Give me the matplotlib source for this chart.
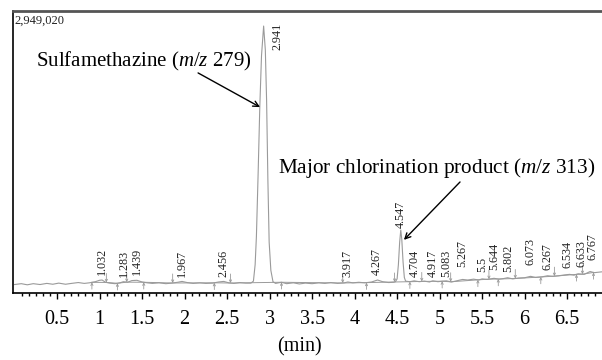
import numpy as np
import matplotlib
matplotlib.use("Agg")
import matplotlib.pyplot as plt
from matplotlib.ticker import FixedLocator, FuncFormatter

plt.rcParams['font.family'] = ['Liberation Serif', 'DejaVu Serif']
plt.rcParams['mathtext.fontset'] = 'custom'
plt.rcParams['mathtext.rm'] = 'Liberation Serif'
plt.rcParams['mathtext.it'] = 'Liberation Serif:italic'

# ---- data (relative intensity, % of full scale 2,949,020) ----
trace_time = [0.00, 0.08, 0.15, 0.22, 0.30, 0.38, 0.45, 0.52, 0.60, 0.67, 0.75, 0.82, 0.88,
              0.95, 1.00, 1.03, 1.07, 1.12, 1.18, 1.24, 1.28, 1.33, 1.38, 1.44, 1.50, 1.56,
              1.62, 1.70, 1.78, 1.85, 1.92, 1.97, 2.03, 2.10, 2.18, 2.25, 2.33, 2.40, 2.46,
              2.52, 2.58, 2.65, 2.72, 2.78,
              2.81, 2.83, 2.845, 2.865, 2.885, 2.905, 2.93, 2.95, 2.965, 2.98, 2.995, 3.015, 3.04,
              3.07, 3.14, 3.20, 3.28, 3.35, 3.42, 3.50, 3.58, 3.65, 3.72, 3.80, 3.88, 3.92,
              3.98, 4.05, 4.12, 4.20, 4.27, 4.33, 4.40, 4.46, 4.48,
              4.50, 4.515, 4.53, 4.543, 4.555, 4.57, 4.585, 4.60,
              4.65, 4.70, 4.76, 4.82, 4.88, 4.92, 4.98, 5.04, 5.08, 5.14, 5.20, 5.27, 5.33,
              5.40, 5.46, 5.50, 5.56, 5.64, 5.70, 5.75, 5.80, 5.86, 5.93, 6.00, 6.07, 6.13,
              6.20, 6.27, 6.33, 6.40, 6.47, 6.53, 6.58, 6.63, 6.70, 6.77, 6.82, 6.91]
trace_value = [3.0, 3.3, 2.9, 3.3, 3.0, 3.4, 3.1, 3.5, 3.1, 3.4, 3.7, 3.4, 3.6,
               4.0, 4.5, 4.6, 3.8, 3.5, 3.3, 3.6, 4.0, 3.8, 4.4, 4.5, 3.9, 3.6,
               3.4, 3.6, 3.3, 3.5, 3.8, 4.1, 3.7, 3.4, 3.6, 3.4, 3.5, 3.9, 4.1,
               3.6, 3.4, 3.7, 3.5, 3.5,
               4.2, 10.0, 20.0, 42.0, 66.0, 84.0, 94.5, 86.0, 68.0, 40.0, 18.0, 8.0, 4.0,
               3.4, 3.8, 3.3, 3.6, 3.2, 3.5, 3.3, 3.6, 3.4, 3.7, 3.4, 3.6, 3.9,
               3.6, 3.8, 3.6, 3.9, 4.6, 4.0, 3.7, 3.8, 4.0,
               5.0, 10.0, 18.0, 22.3, 19.0, 11.0, 5.5, 4.2,
               4.0, 4.3, 4.0, 4.2, 3.9, 4.3, 4.0, 4.2, 4.3, 3.9, 4.3, 4.8, 4.6,
               4.9, 4.6, 5.0, 4.8, 5.2, 4.9, 5.1, 5.4, 5.0, 5.3, 5.4, 5.9, 5.5,
               5.7, 6.1, 5.9, 6.1, 6.4, 6.6, 6.3, 6.8, 6.6, 7.6, 7.2, 7.5]

peak_labels = ["1.032", "1.283", "1.439", "1.967", "2.456", "2.941", "3.917", "4.267",
               "4.547", "4.704", "4.917", "5.083", "5.267", "5.5", "5.644", "5.802",
               "6.073", "6.267", "6.534", "6.633", "6.767"]
peak_times = [1.032, 1.283, 1.439, 1.967, 2.456, 2.941, 3.917, 4.267, 4.547, 4.704,
              4.917, 5.083, 5.267, 5.5, 5.644, 5.802, 6.073, 6.267, 6.534, 6.633, 6.767]
label_heights = [6.4, 5.7, 6.4, 5.7, 5.6, 86.0, 5.7, 6.4, 23.0, 5.7, 5.7, 5.7, 9.2,
                 7.4, 8.1, 7.4, 9.9, 8.1, 8.8, 9.2, 11.7]

marker_times = [0.91, 1.08, 1.21, 1.32, 1.52, 1.86, 2.35, 2.54, 3.14, 3.86, 4.14, 4.47,
                4.65, 4.79, 5.03, 5.13, 5.45, 5.58, 5.69, 5.89, 6.19, 6.35, 6.61, 6.68, 6.81]

full_scale = "2,949,020"

# label nudges (layout only, in minutes) to keep crowded labels apart
label_nudge = {"2.941": 0.15, "6.534": -0.025, "6.633": 0.03, "6.767": 0.035}

# ---- figure ----
fig = plt.figure(figsize=(6.02, 3.60), dpi=100)
ax = fig.add_axes([13 / 602, 67 / 360, 589 / 602, 282.5 / 360])
ax.set_xlim(-0.018, 6.91)
ax.set_ylim(0, 100)

gray = '#9a9a9a'
ax.plot(trace_time, trace_value, color=gray, lw=0.8, zorder=2)

# integration baseline and markers
mk_y = np.interp(marker_times, trace_time, trace_value)
ax.plot(marker_times, mk_y, color=gray, lw=0.7, zorder=2)
for i, (t, y) in enumerate(zip(marker_times, mk_y)):
    if i % 2 == 0:
        ax.annotate('', xy=(t, y), xytext=(t, y - 2.4),
                    arrowprops=dict(arrowstyle='->', color='#999999', lw=0.6,
                                    mutation_scale=4, shrinkA=0, shrinkB=0))
    else:
        ax.annotate('', xy=(t, y), xytext=(t, y + 3.2),
                    arrowprops=dict(arrowstyle='->', color='#999999', lw=0.6,
                                    mutation_scale=4, shrinkA=0, shrinkB=0))

# peak labels
for lab, t, h in zip(peak_labels, peak_times, label_heights):
    x = t + label_nudge.get(lab, 0.0)
    ax.text(x, h, lab, rotation=90, ha='center', va='bottom', fontsize=8.7,
            color='#222222')

ax.text(0.003, 0.985, full_scale, transform=ax.transAxes, ha='left', va='top',
        fontsize=9, color='#222222')

# annotations
ax.text(1.52, 82.1, 'Sulfamethazine ($m/z$ 279)', ha='center', va='center',
        fontsize=15)
ax.annotate('', xy=(2.888, 65.8), xytext=(2.159, 77.9),
            arrowprops=dict(arrowstyle='->', color='black', lw=1.0, shrinkA=0,
                            shrinkB=0))
ax.text(4.96, 44.2, 'Major chlorination product ($m/z$ 313)', ha='center',
        va='center', fontsize=15.3)
ax.annotate('', xy=(4.58, 18.8), xytext=(5.24, 39.3),
            arrowprops=dict(arrowstyle='->', color='black', lw=1.0, shrinkA=0,
                            shrinkB=0))

# axes styling
ax.spines['right'].set_visible(False)
ax.spines['top'].set_color('#555555')
ax.spines['top'].set_linewidth(2.0)
ax.spines['left'].set_color('black')
ax.spines['left'].set_linewidth(1.2)
ax.spines['bottom'].set_color('black')
ax.spines['bottom'].set_linewidth(1.2)
ax.set_yticks([])

major = [0.5, 1, 1.5, 2, 2.5, 3, 3.5, 4, 4.5, 5, 5.5, 6, 6.5]
minor = [k / 12 for k in range(1, 83)]
ax.xaxis.set_major_locator(FixedLocator(major))
ax.xaxis.set_minor_locator(FixedLocator(minor))
ax.xaxis.set_major_formatter(FuncFormatter(lambda v, p: f'{v:g}'))
ax.tick_params(axis='x', which='major', length=4.0, width=1.0, pad=8,
               labelsize=14.5, direction='out')
ax.tick_params(axis='x', which='minor', length=2.3, width=1.0, direction='out')
ax.set_xlabel('(min)', fontsize=14.5, labelpad=6)
ax.xaxis.label.set_x(0.487)

fig.savefig('out.png', dpi=100)
